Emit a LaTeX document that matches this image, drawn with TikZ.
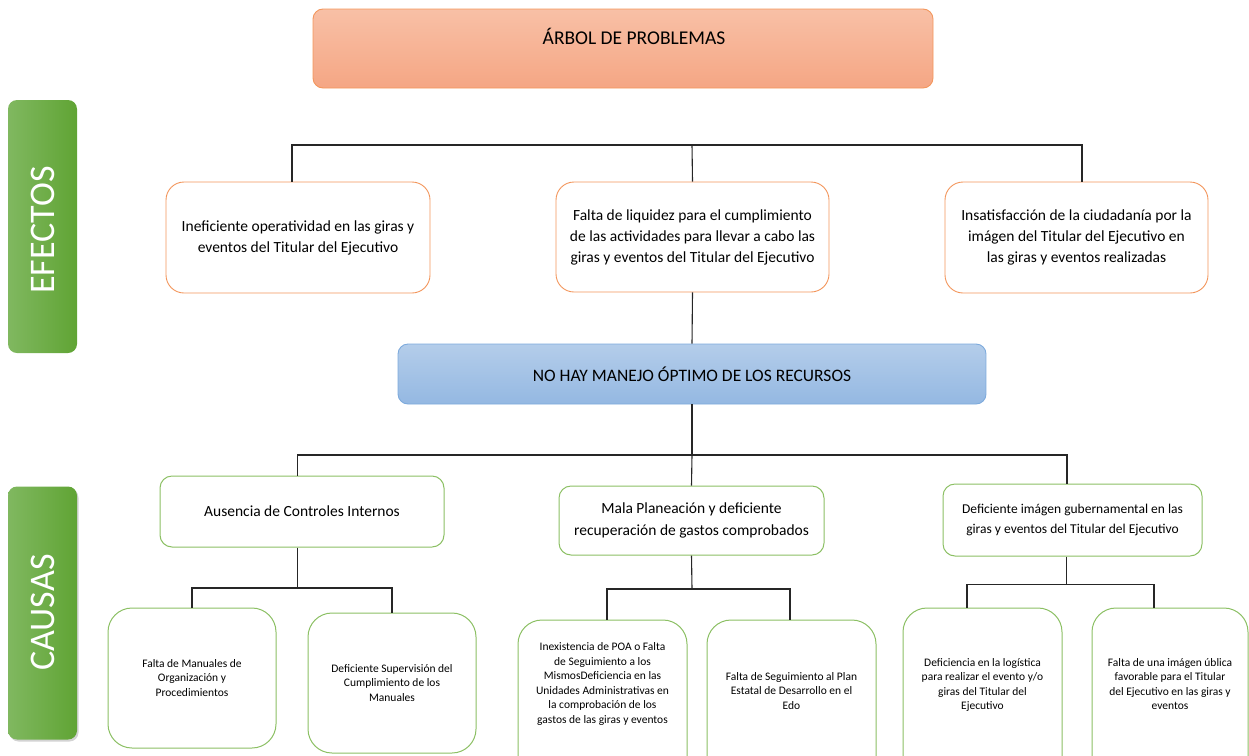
\documentclass[tikz,border=0pt]{standalone}
\usepackage{fontspec}
\setmainfont{Carlito}
\usetikzlibrary{shadows}
\definecolor{orgline}{RGB}{243,150,92}
\definecolor{orgtop}{RGB}{248,192,166}
\definecolor{orgbot}{RGB}{245,166,132}
\definecolor{grnline}{RGB}{140,192,100}
\definecolor{grnleft}{RGB}{128,184,96}
\definecolor{grnright}{RGB}{96,164,52}
\definecolor{bluetop}{RGB}{180,205,234}
\definecolor{bluebot}{RGB}{148,184,226}
\definecolor{blueline}{RGB}{125,170,220}
\begin{document}
\begin{tikzpicture}[x=1pt,y=-1pt,
  box/.style={draw, inner sep=0pt, align=center},
  effbox/.style={box, draw=orgline, line width=0.9pt, fill=white, rounded corners=18pt,
    font=\fontsize{15.5}{21}\selectfont},
  causebox/.style={box, draw=grnline, line width=1pt, fill=white, rounded corners=12pt},
  leafbox/.style={box, draw=grnline, line width=1pt, fill=white, rounded corners=24pt},
  leaftext/.style={align=center, inner sep=0pt, font=\fontsize{11.5}{14.5}\selectfont},
  sidebox/.style={draw=none, rounded corners=9pt, left color=grnleft, right color=grnright,
    minimum width=69pt, minimum height=253pt, inner sep=0pt},
  sidetext/.style={rotate=90, text=white, font=\fontsize{36}{42}\selectfont},
  conn/.style={draw=black!85, line width=1.1pt}
]
\useasboundingbox (0,0) rectangle (1249,755);
\clip (0,0) rectangle (1249,755);

% title
\node[box, draw=orgline, line width=0.9pt, rounded corners=10pt, top color=orgtop, bottom color=orgbot,
  minimum width=620pt, minimum height=79pt] (title) at (623,48.5) {};
\node[font=\fontsize{19.5}{24}\selectfont, inner sep=0pt] (titletext) at (634,36) {ÁRBOL DE PROBLEMAS};

% side labels
\node[sidebox] (efe) at (42.5,226.5) {};
\node[sidetext] (efetext) at (43,230) {EFECTOS};
\node[sidebox, drop shadow={opacity=0.35, shadow xshift=1.5pt, shadow yshift=-2pt}] (cau) at (42.5,613) {};
\node[sidetext] (cautext) at (43,612.5) {CAUSAS};

% effects
\node[effbox, minimum width=264pt, minimum height=111pt] (e1) at (298,237.5)
  {Ineficiente operatividad en las giras y\\eventos del Titular del Ejecutivo};
\node[effbox, minimum width=273pt, minimum height=110pt] (e2) at (692.5,237)
  {Falta de liquidez para el cumplimiento\\de las actividades para llevar a cabo las\\giras y eventos del Titular del Ejecutivo};
\node[effbox, minimum width=263pt, minimum height=111pt] (e3) at (1076.5,237.5)
  {Insatisfacción de la ciudadanía por la\\imágen del Titular del Ejecutivo en\\las giras y eventos realizadas};

% core problem
\node[box, draw=blueline, line width=0.9pt, rounded corners=10pt, top color=bluetop, bottom color=bluebot,
  minimum width=588pt, minimum height=60pt, font=\fontsize{17.5}{22}\selectfont] (core) at (692,374)
  {NO HAY MANEJO ÓPTIMO DE LOS RECURSOS};

% causes level 1
\node[causebox, minimum width=284pt, minimum height=71pt, font=\fontsize{15.5}{21}\selectfont] (c1) at (302,511.5)
  {Ausencia de Controles Internos};
\node[causebox, minimum width=265pt, minimum height=69pt, font=\fontsize{15.5}{22}\selectfont] (c2) at (691.5,520.5)
  {Mala Planeación y deficiente\\recuperación de gastos comprobados};
\node[causebox, minimum width=259pt, minimum height=72pt, font=\fontsize{13.5}{20}\selectfont] (c3) at (1072.5,520)
  {Deficiente imágen gubernamental en las\\giras y eventos del Titular del Ejecutivo};

% causes level 2
\node[leafbox, minimum width=168pt, minimum height=140pt, font=\fontsize{11.5}{14.5}\selectfont] (b1) at (192,678)
  {Falta de Manuales de\\Organización y\\Procedimientos};
\node[leafbox, minimum width=168pt, minimum height=140pt, font=\fontsize{11.5}{14.5}\selectfont] (b2) at (392,683)
  {Deficiente Supervisión del\\Cumplimiento de los\\Manuales};
\node[leafbox, minimum width=169pt, minimum height=160pt] (b3) at (602.5,700) {};
\node[leaftext] (b3t) at (602.5,684)
  {Inexistencia de POA o Falta\\de Seguimiento a los\\MismosDeficiencia en las\\Unidades Administrativas en\\la comprobación de los\\gastos de las giras y eventos};
\node[leafbox, minimum width=169pt, minimum height=160pt] (b4) at (791.5,700) {};
\node[leaftext] (b4t) at (791.5,691)
  {Falta de Seguimiento al Plan\\Estatal de Desarrollo en el\\Edo};
\node[leafbox, minimum width=159pt, minimum height=172pt] (b5) at (982.5,694) {};
\node[leaftext] (b5t) at (982.5,685)
  {Deficiencia en la logística\\para realizar el evento y/o\\giras del Titular del\\Ejecutivo};
\node[leafbox, minimum width=156pt, minimum height=172pt] (b6) at (1170,694) {};
\node[leaftext] (b6t) at (1170,684)
  {Falta de una imágen ública\\favorable para el Titular\\del Ejecutivo en las giras y\\eventos};

% junctions
\coordinate (jE) at (692,145);
\coordinate (jC) at (692,455);
\coordinate (jL) at (297.5,588);
\coordinate (jM) at (692,589);
\coordinate (jR) at (1066.5,584.5);

% connectors
\draw[conn] ([xshift=-6pt]e1.north) |- (jE) -| ([xshift=5.5pt]e3.north);
\draw[conn] (jE) -- (e2.north);
\draw[conn] (e2.south) -- (core.north);
\draw[conn] (core.south) -- (jC);
\draw[conn] ([xshift=-4.5pt]c1.north) |- (jC) -| ([xshift=-5.5pt]c3.north);
\draw[conn] (jC) -- (c2.north);

\draw[conn] ([xshift=-4.5pt]c1.south) -- (jL);
\draw[conn] (b1.north) |- (jL) -| (b2.north);

\draw[conn] (c2.south) -- (jM);
\draw[conn] ([xshift=4.5pt]b3.north) |- (jM) -| ([xshift=-1.5pt]b4.north);

\draw[conn] (c3.south -| jR) -- (jR);
\draw[conn] ([xshift=-15.5pt]b5.north) |- (jR) -| ([xshift=-16pt]b6.north);
\end{tikzpicture}
\end{document}
